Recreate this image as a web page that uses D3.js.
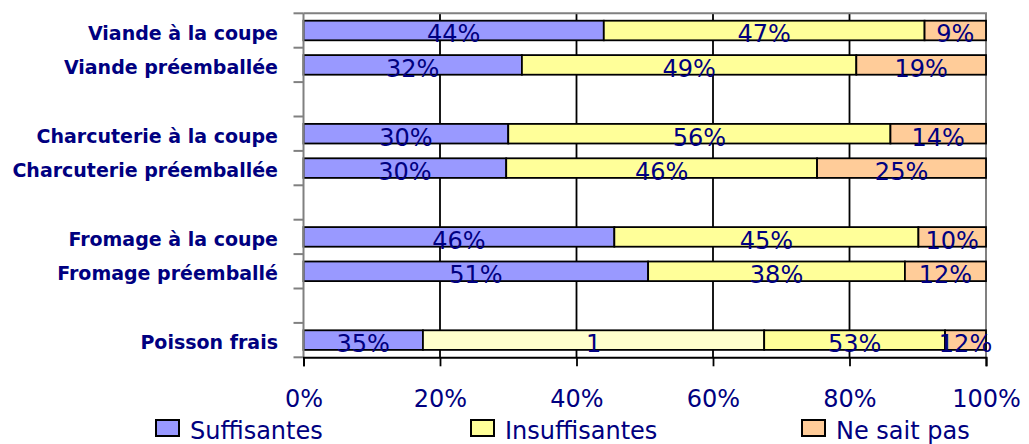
<!DOCTYPE html>
<html lang="fr">

<head>
    <meta charset="utf-8">
    <title>Informations - produits frais</title>
    <style>
        body { margin: 0; background: #fff; }
        svg { display: block; }
    </style>
</head>

<body>
    <script src="https://cdn.jsdelivr.net/npm/d3@7/dist/d3.min.js"></script>
    <script>
        // categories (blank strings are the empty rows between groups)
        var categories = ["Viande à la coupe", "Viande préemballée", "",
            "Charcuterie à la coupe", "Charcuterie préemballée", "",
            "Fromage à la coupe", "Fromage préemballé", "",
            "Poisson frais"];
        // series values, as fractions
        var suffisantes = [0.44, 0.32, 0, 0.30, 0.30, 0, 0.46, 0.51, 0, 0.35];
        var sansNom = [0, 0, 0, 0, 0, 0, 0, 0, 0, 1];
        var insuffisantes = [0.47, 0.49, 0, 0.56, 0.46, 0, 0.45, 0.38, 0, 0.53];
        var neSaitPas = [0.09, 0.19, 0, 0.14, 0.25, 0, 0.10, 0.12, 0, 0.12];
        var seriesNames = ["Suffisantes", "", "Insuffisantes", "Ne sait pas"];
        var seriesColors = ["#9999FF", "#FFFFCC", "#FFFF99", "#FFCC99"];
        var tickValues = [0, 0.2, 0.4, 0.6, 0.8, 1];

        var w = 1029, h = 444;
        var mLeft = 303.5, mRight = 986, mTop = 13.3, mBottom = 357.3;
        var navy = "#000080";

        var rows = categories.map(function(c, i) {
            return { i: i, s0: suffisantes[i], s1: sansNom[i], s2: insuffisantes[i], s3: neSaitPas[i] };
        });
        var keys = ["s0", "s1", "s2", "s3"];
        var stacked = d3.stack().keys(keys).offset(d3.stackOffsetExpand)(rows);

        var x = d3.scaleLinear().domain([0, 1]).range([mLeft, mRight]);
        var y = d3.scaleBand().domain(d3.range(categories.length))
            .range([mTop, mBottom]).paddingInner(0.43).paddingOuter(0.215);

        var svg = d3.select("body").append("svg").attr("width", w).attr("height", h);

        // gridlines
        svg.append("g").selectAll("line")
            .data(tickValues.slice(1, -1))
            .enter().append("line")
            .attr("x1", function(d) { return x(d); })
            .attr("x2", function(d) { return x(d); })
            .attr("y1", mTop).attr("y2", mBottom)
            .attr("stroke", "#000").attr("stroke-width", 1.8);

        // plot border (top and right, gray)
        svg.append("path")
            .attr("d", "M" + mLeft + "," + mTop + "H" + mRight + "V" + mBottom)
            .attr("fill", "none").attr("stroke", "#808080").attr("stroke-width", 2);

        // bars
        var layer = svg.append("g").selectAll("g")
            .data(stacked).enter().append("g")
            .attr("fill", function(d, k) { return seriesColors[k]; });
        layer.selectAll("rect")
            .data(function(d) { return d.filter(function(p) { return p[1] - p[0] > 0; }); })
            .enter().append("rect")
            .attr("x", function(p) { return x(p[0]); })
            .attr("width", function(p) { return x(p[1]) - x(p[0]); })
            .attr("y", function(p) { return y(p.data.i); })
            .attr("height", y.bandwidth())
            .attr("stroke", "#000").attr("stroke-width", 1.8);

        // data labels
        var pct = d3.format(".0%");
        stacked.forEach(function(s, k) {
            svg.append("g").selectAll("text")
                .data(s.filter(function(p) { return p[1] - p[0] > 0; }))
                .enter().append("text")
                .attr("x", function(p) { return x((p[0] + p[1]) / 2); })
                .attr("y", function(p) { return y(p.data.i) + y.bandwidth() + 2; })
                .attr("text-anchor", "middle")
                .attr("font-family", "DejaVu Sans")
                .attr("font-size", 24)
                .attr("fill", navy)
                .text(function(p) {
                    var v = p.data[s.key];
                    return k === 1 ? String(v) : pct(v);
                });
        });

        // left axis (gray, ticks between rows)
        var bounds = d3.range(categories.length + 1).map(function(k) { return mTop + k * y.step(); });
        var yAxis = svg.append("g");
        yAxis.append("line")
            .attr("x1", mLeft).attr("x2", mLeft).attr("y1", mTop).attr("y2", mBottom)
            .attr("stroke", "#808080").attr("stroke-width", 2);
        yAxis.selectAll(".tk").data(bounds).enter().append("line")
            .attr("x1", mLeft - 10).attr("x2", mLeft)
            .attr("y1", function(d) { return d; }).attr("y2", function(d) { return d; })
            .attr("stroke", "#808080").attr("stroke-width", 2);

        // category labels
        svg.append("g").selectAll("text")
            .data(categories.map(function(c, i) { return { c: c, i: i }; }).filter(function(d) { return d.c; }))
            .enter().append("text")
            .attr("x", 278)
            .attr("y", function(d) { return y(d.i) + y.bandwidth() / 2 + 9; })
            .attr("text-anchor", "end")
            .attr("font-family", "DejaVu Sans")
            .attr("font-weight", "bold")
            .attr("font-size", 19)
            .attr("fill", navy)
            .text(function(d) { return d.c; });

        // bottom axis
        var xAxis = d3.axisBottom(x).tickValues(tickValues).tickFormat(pct).tickSize(9);
        var gx = svg.append("g")
            .attr("transform", "translate(0," + mBottom + ")")
            .call(xAxis);
        gx.select(".domain").attr("stroke", "#000").attr("stroke-width", 2);
        gx.selectAll(".tick line").attr("stroke", "#000").attr("stroke-width", 1.8);
        gx.selectAll(".tick text")
            .attr("y", 50).attr("dy", 0)
            .attr("font-family", "DejaVu Sans")
            .attr("font-size", 24)
            .attr("fill", navy);

        // legend
        var legendX = [156, 471, 802];
        var legend = svg.append("g").selectAll("g")
            .data([0, 2, 3]).enter().append("g")
            .attr("transform", function(k, j) { return "translate(" + legendX[j] + ",420)"; });
        legend.append("rect")
            .attr("width", 23).attr("height", 16)
            .attr("fill", function(k) { return seriesColors[k]; })
            .attr("stroke", "#000").attr("stroke-width", 2);
        legend.append("text")
            .attr("x", 34).attr("y", 18.5)
            .attr("font-family", "DejaVu Sans")
            .attr("font-size", 24)
            .attr("fill", navy)
            .text(function(k) { return seriesNames[k]; });
    </script>
</body>

</html>
